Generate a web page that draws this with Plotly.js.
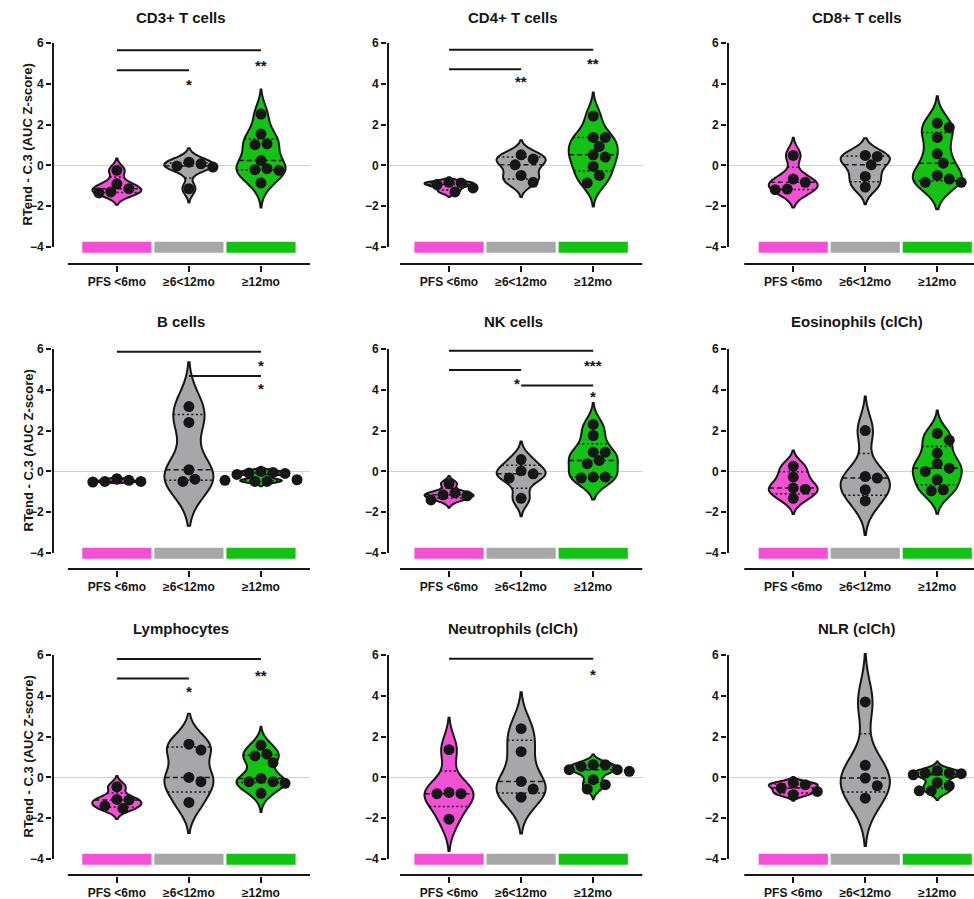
<!DOCTYPE html>
<html><head><meta charset="utf-8">
<script src="https://cdn.plot.ly/plotly-3.0.1.min.js"></script>
<style>html,body{margin:0;padding:0;background:#fff}#chart{width:974px;height:899px}</style>
</head><body><div id="chart"></div>
<script>
// ---------- data ----------
const categories = ['PFS <6mo', '≥6<12mo', '≥12mo'];
const groupColors = ['#F450D6', '#A7A7A9', '#14C214'];
const panelTitles = ['CD3+ T cells', 'CD4+ T cells', 'CD8+ T cells',
                     'B cells', 'NK cells', 'Eosinophils (clCh)',
                     'Lymphocytes', 'Neutrophils (clCh)', 'NLR (clCh)'];
const yTitle = 'RTend - C.3 (AUC Z-score)';
const yTicks = [-4, -2, 0, 2, 4, 6];

const cd3Values = [[-0.24, -1.14, -0.9, -1.35, -1.3],
                   [0.16, -0.03, 0.08, -0.08, -1.14],
                   [2.52, 1.54, 1.06, 1.02, 0.24, -0.16, -0.24, -0.21, -0.86]];
const cd4Values = [[-1.1, -0.83, -0.86, -0.94, -1.3],
                   [0.52, 0.31, 0.03, -0.49, -0.83],
                   [2.42, 1.37, 1.37, 0.93, 0.52, 0.41, -0.05, -0.49, -0.86]];
const cd8Values = [[0.49, -0.83, -0.67, -1.19, -1.16],
                   [0.49, 0.44, 0.03, -0.54, -1.06],
                   [2.07, 1.86, 1.37, 0.57, 0.11, -0.49, -0.83, -0.83, -0.67]];
const bValues   = [[-0.49, -0.36, -0.44, -0.49, -0.52],
                   [3.18, 2.4, 0.08, -0.49, -0.38],
                   [0.0, -0.05, -0.08, -0.1, -0.15, -0.41, -0.49, -0.44, -0.49]];
const nkValues  = [[-0.6, -1.05, -1.2, -1.4, -1.15],
                   [0.58, 0.03, -0.33, -0.12, -1.32],
                   [2.3, 1.76, 0.94, 0.94, 0.54, 0.38, -0.33, -0.28, -0.28]];
const eosValues = [[0.25, -0.28, -0.82, -0.87, -1.32],
                   [2.0, -0.33, -0.25, -0.9, -1.45],
                   [1.53, 1.86, 0.9, 0.38, 0.16, 0.0, -0.41, -0.95, -0.9]];
const lymValues = [[-0.46, -1.11, -1.08, -1.52, -1.4],
                   [1.63, 1.34, 0.0, -0.21, -1.23],
                   [1.57, 1.14, 1.05, 0.72, -0.05, -0.21, -0.21, -0.29, -0.78]];
const neuValues = [[1.36, -0.74, -0.8, -0.8, -2.05],
                   [2.39, 1.26, -0.2, -0.57, -0.97],
                   [0.3, 0.62, 0.38, 0.54, 0.62, 0.38, -0.11, -0.36, -0.57]];
const nlrValues = [[-0.36, -0.85, -0.28, -0.69, -0.52],
                   [3.7, 0.59, -0.03, -0.41, -1.02],
                   [0.21, 0.21, 0.33, 0.18, -0.41, -0.66, -0.66, -0.25, 0.13]];

// significance: [from, to, lineY, label, labelX, labelY]
const cd3Sig = [[0, 2, 5.64, '**', 2, 4.88], [0, 1, 4.67, '*', 1, 3.98]];
const cd4Sig = [[0, 2, 5.67, '**', 2, 4.99], [0, 1, 4.72, '**', 1, 4.1]];
const cd8Sig = [];
const bSig   = [[0, 2, 5.87, '*', 2, 5.2], [1, 2, 4.68, '*', 2, 4.08]];
const nkSig  = [[0, 2, 5.92, '***', 2, 5.18], [0, 1, 4.97, '*', 0.94, 4.33], [1, 2, 4.21, '*', 2, 3.67]];
const eosSig = [];
const lymSig = [[0, 2, 5.8, '**', 2, 5.02], [0, 1, 4.85, '*', 1, 4.2]];
const neuSig = [[0, 2, 5.82, '*', 2, 5.05]];
const nlrSig = [];

const panelValues = [cd3Values, cd4Values, cd8Values, bValues, nkValues, eosValues, lymValues, neuValues, nlrValues];
const panelSig = [cd3Sig, cd4Sig, cd8Sig, bSig, nkSig, eosSig, lymSig, neuSig, nlrSig];

// ---------- layout geometry ----------
const W = 974, H = 899;
const colPx = [[52, 310], [387, 643], [727, 974]];
const colRange = [[-0.9, 2.68], [-0.86, 2.69], [-0.92, 2.51]];
const rowTopPx = [36.9, 342.9, 648.9];
const rowBotPx = [265, 569.9, 875.9];
const rowRange = [[-4.88, 6.3], [-4.83, 6.3], [-4.83, 6.3]];
const rowTitlePx = [17, 322, 628];
const PX_X = 72, PX_Y = 20.4;
const VW = 0.68;          // violin width (data units)
const BW_FACTOR = 0.72;
const SPAN_K = 2.3;
const FONT = 'Liberation Sans, Arial, sans-serif';
const INK = '#161616';

// ---------- helpers ----------
function qExc(s, p) { const n = s.length; let pos = (n + 1) * p - 1; pos = Math.max(0, Math.min(n - 1, pos)); const lo = Math.floor(pos), hi = Math.ceil(pos); return s[lo] + (s[hi] - s[lo]) * (pos - lo); }
function bandwidthOf(vals) {
  const n = vals.length, mean = vals.reduce((a, b) => a + b, 0) / n;
  const sd = Math.sqrt(vals.reduce((a, v) => a + (v - mean) ** 2, 0) / (n - 1));
  const span = Math.max(...vals) - Math.min(...vals);
  return Math.max(1.059 * sd * Math.pow(n, -0.2) * BW_FACTOR, span / 100);
}
function makeKde(vals, bw) {
  const f = 1 / (vals.length * bw * Math.sqrt(2 * Math.PI));
  return y => f * vals.reduce((a, v) => a + Math.exp(-0.5 * ((y - v) / bw) ** 2), 0);
}
function maxKde(span, bw, kde) {
  const lo = span[0], hi = span[1];
  const n = Math.ceil((hi - lo) / (bw / 3)), step = (hi - lo) / n;
  let m = 0; for (let t = lo; t < hi + step / 2; t += step) m = Math.max(m, kde(t));
  return m;
}
function swarm(vals) {
  const D = 10, step = 6;
  const order = vals.map((v, i) => i).sort((a, b) => vals[b] - vals[a]);
  const placed = [], off = new Array(vals.length).fill(0);
  for (const i of order) {
    const yp = vals[i] * PX_Y;
    for (let k = 0; k < 40; k++) {
      const c = k === 0 ? 0 : (k % 2 ? 1 : -1) * Math.ceil(k / 2) * step;
      if (placed.every(p => Math.hypot(p[0] - c, p[1] - yp) >= D)) { off[i] = c / PX_X; placed.push([c, yp]); break; }
    }
  }
  return off;
}

// ---------- build ----------
const data = [], shapes = [], annotations = [];
const layout = {
  width: W, height: H, margin: {l: 0, r: 0, t: 0, b: 0},
  paper_bgcolor: '#fff', plot_bgcolor: 'rgba(0,0,0,0)', showlegend: false,
  font: {family: FONT, color: INK}, shapes, annotations
};

for (let i = 0; i < 9; i++) {
  const r = Math.floor(i / 3), c = i % 3, n = i === 0 ? '' : String(i + 1);
  const xa = 'x' + n, ya = 'y' + n;
  layout['xaxis' + n] = {
    domain: [colPx[c][0] / W, colPx[c][1] / W], range: colRange[c], anchor: ya, type: 'linear',
    tickvals: [0, 1, 2], ticktext: categories, ticks: 'outside', ticklen: 6, tickwidth: 2, tickcolor: INK,
    showline: false, showgrid: false, zeroline: false, automargin: false, fixedrange: true,
    tickfont: {family: FONT, size: 12, weight: 'bold', color: INK}
  };
  layout['yaxis' + n] = {
    domain: [1 - rowBotPx[r] / H, 1 - rowTopPx[r] / H], range: rowRange[r], anchor: xa,
    tickvals: yTicks, ticks: 'outside', ticklen: 5, tickwidth: 2, tickcolor: INK,
    showline: false, showgrid: false, zeroline: true, zerolinecolor: '#d2d2d2', zerolinewidth: 1,
    automargin: false, fixedrange: true,
    tickfont: {family: FONT, size: 12, weight: 'bold', color: INK}
  };

  // colour key bars
  data.push({type: 'bar', x: [0, 1, 2], y: [0.54, 0.54, 0.54], base: -4.28, width: 0.96,
    marker: {color: groupColors, line: {width: 0}}, xaxis: xa, yaxis: ya, hoverinfo: 'skip'});

  const medX = [], medY = [], qX = [], qY = [], pts = [];
  panelValues[i].forEach((vals, g) => {
    const bw = bandwidthOf(vals);
    const span = [Math.min(...vals) - SPAN_K * bw, Math.max(...vals) + SPAN_K * bw];
    data.push({type: 'violin', x0: g, y: vals, xaxis: xa, yaxis: ya, width: VW, scalemode: 'width',
      bandwidth: bw, spanmode: 'manual', span: span, points: false, box: {visible: false}, meanline: {visible: false},
      fillcolor: groupColors[g], line: {color: INK, width: 2}, opacity: 1, hoverinfo: 'skip'});
    const kde = makeKde(vals, bw), mk = maxKde(span, bw, kde);
    const s = vals.slice().sort((a, b) => a - b);
    const hw = y => (VW / 2) * kde(y) / mk;
    const m = qExc(s, 0.5), q1 = qExc(s, 0.25), q3 = qExc(s, 0.75);
    medX.push(g - hw(m), g + hw(m), null); medY.push(m, m, null);
    [q1, q3].forEach(q => { qX.push(g - hw(q), g + hw(q), null); qY.push(q, q, null); });
    const off = swarm(vals);
    pts.push({type: 'scatter', mode: 'markers', x: vals.map((v, k) => g + off[k]), y: vals,
      xaxis: xa, yaxis: ya, marker: {size: 11, color: INK, line: {width: 0}}, hoverinfo: 'skip', cliponaxis: false});
  });
  data.push({type: 'scatter', mode: 'lines', x: medX, y: medY, xaxis: xa, yaxis: ya,
    line: {color: INK, width: 1.5, dash: '5px,3px'}, hoverinfo: 'skip', connectgaps: false});
  data.push({type: 'scatter', mode: 'lines', x: qX, y: qY, xaxis: xa, yaxis: ya,
    line: {color: INK, width: 1.5, dash: '2px,2.5px'}, hoverinfo: 'skip', connectgaps: false});
  pts.forEach(t => data.push(t));

  // axis lines (GraphPad style offset axes)
  const dx = 1 / PX_X, dy = 1 / PX_Y;
  shapes.push({type: 'line', xref: xa, yref: ya, x0: colRange[c][0] + dx, x1: colRange[c][0] + dx, y0: -4, y1: 6,
    line: {color: INK, width: 2}});
  shapes.push({type: 'line', xref: xa, yref: ya, x0: -0.68, x1: 2.68, y0: rowRange[r][0] + dy, y1: rowRange[r][0] + dy,
    line: {color: INK, width: 2}});

  // significance
  panelSig[i].forEach(([a, b, ly, lab, lx, lyy]) => {
    shapes.push({type: 'line', xref: xa, yref: ya, x0: a, x1: b, y0: ly, y1: ly, line: {color: INK, width: 2}});
    annotations.push({xref: xa, yref: ya, x: lx, y: lyy, text: lab, showarrow: false, yshift: 0,
      font: {family: FONT, size: 15, weight: 'bold', color: INK}});
  });

  // title
  annotations.push({xref: xa, yref: 'paper', x: 0.89, y: 1 - rowTitlePx[r] / H, text: panelTitles[i],
    showarrow: false, yanchor: 'middle', font: {family: FONT, size: 15, weight: 'bold', color: INK}});
  if (c === 0) {
    annotations.push({xref: 'paper', yref: ya, x: 18 / W, y: 1, text: yTitle, textangle: -90,
      showarrow: false, font: {family: FONT, size: 13, weight: 'bold', color: INK}});
  }
}

Plotly.newPlot('chart', data, layout, {staticPlot: true, displayModeBar: false});
</script></body></html>
